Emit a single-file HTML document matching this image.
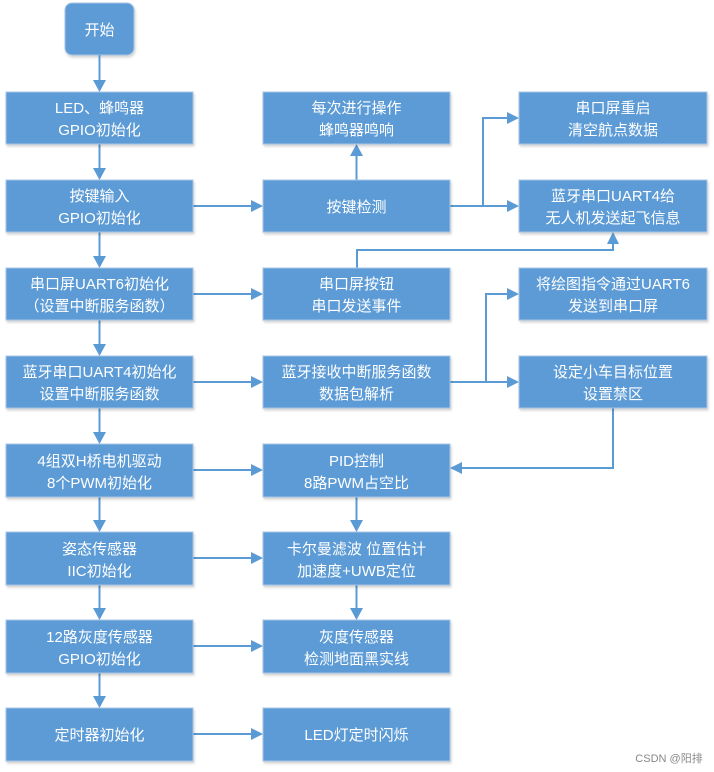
<!DOCTYPE html>
<html><head><meta charset="utf-8"><style>
html,body{margin:0;padding:0;background:#fff;}
svg{display:block;}
text{font-family:"Liberation Sans","Noto Sans CJK SC",sans-serif;font-size:15px;fill:#fff;text-anchor:middle;}
.b{fill:#5b9bd5;stroke:#a9c6e6;stroke-width:1;}
.l{stroke:#5b9bd5;stroke-width:2;fill:none;}
.a{fill:#5b9bd5;}
</style></head><body>
<svg width="714" height="772" viewBox="0 0 714 772">
<defs><filter id="s" x="-5%" y="-5%" width="115%" height="125%"><feDropShadow dx="1" dy="2" stdDeviation="1.2" flood-color="#000" flood-opacity="0.18"/></filter></defs>
<!-- start -->
<rect class="b" x="65" y="3" width="69" height="52" rx="7" filter="url(#s)"/>
<text x="99.5" y="35">开始</text>
<!-- col1 vertical lines -->
<line class="l" x1="99.5" y1="55" x2="99.5" y2="82"/><path class="a" d="M93,80 L106,80 L99.5,92 Z"/>
<g id="v">
<line class="l" x1="99.5" y1="144" x2="99.5" y2="170"/><path class="a" d="M93,168 L106,168 L99.5,180 Z"/>
</g>
<use href="#v" y="88"/><use href="#v" y="176"/><use href="#v" y="264"/><use href="#v" y="352"/><use href="#v" y="440"/><use href="#v" y="528"/>
<!-- col1->col2 -->
<g id="h"><line class="l" x1="193" y1="206" x2="253" y2="206"/><path class="a" d="M251,200 L263,206 L251,212 Z"/></g>
<use href="#h" y="88"/><use href="#h" y="176"/><use href="#h" y="264"/><use href="#h" y="352"/><use href="#h" y="440"/><use href="#h" y="528"/>
<!-- col2 verticals -->
<line class="l" x1="356.5" y1="180" x2="356.5" y2="154"/><path class="a" d="M350,156 L363,156 L356.5,144 Z"/>
<line class="l" x1="356.5" y1="497" x2="356.5" y2="522"/><path class="a" d="M350,520 L363,520 L356.5,532 Z"/>
<line class="l" x1="356.5" y1="585" x2="356.5" y2="610"/><path class="a" d="M350,608 L363,608 L356.5,620 Z"/>
<!-- key detect branches -->
<polyline class="l" points="450,206 509,206"/><path class="a" d="M507,200 L519,206 L507,212 Z"/>
<polyline class="l" points="483,206 483,118 509,118"/><path class="a" d="M507,112 L519,118 L507,124 Z"/>
<!-- serial button up to bluetooth -->
<polyline class="l" points="357,268 357,250 613,250 613,242"/><path class="a" d="M607,244 L619,244 L613,232 Z"/>
<!-- bluetooth rx branches -->
<polyline class="l" points="450,382 509,382"/><path class="a" d="M507,376 L519,382 L507,388 Z"/>
<polyline class="l" points="486,382 486,294 509,294"/><path class="a" d="M507,288 L519,294 L507,300 Z"/>
<!-- target pos -> PID -->
<polyline class="l" points="613,408 613,468 460,468"/><path class="a" d="M462,462 L450,468 L462,474 Z"/>
<!-- boxes -->
<g filter="url(#s)">
<rect class="b" x="6" y="92" width="187" height="52"/>
<rect class="b" x="6" y="180" width="187" height="52"/>
<rect class="b" x="6" y="268" width="187" height="52"/>
<rect class="b" x="6" y="356" width="187" height="52"/>
<rect class="b" x="6" y="444" width="187" height="53"/>
<rect class="b" x="6" y="532" width="187" height="53"/>
<rect class="b" x="6" y="620" width="187" height="53"/>
<rect class="b" x="6" y="708" width="187" height="53"/>
<rect class="b" x="263" y="92" width="187" height="52"/>
<rect class="b" x="263" y="180" width="187" height="52"/>
<rect class="b" x="263" y="268" width="187" height="52"/>
<rect class="b" x="263" y="356" width="187" height="52"/>
<rect class="b" x="263" y="444" width="187" height="53"/>
<rect class="b" x="263" y="532" width="187" height="53"/>
<rect class="b" x="263" y="620" width="187" height="53"/>
<rect class="b" x="263" y="708" width="187" height="53"/>
<rect class="b" x="519" y="92" width="188" height="52"/>
<rect class="b" x="519" y="180" width="188" height="52"/>
<rect class="b" x="519" y="268" width="188" height="52"/>
<rect class="b" x="519" y="356" width="188" height="52"/>
</g>
<!-- col1 text -->
<text x="99.5" y="113">LED、蜂鸣器</text><text x="99.5" y="135">GPIO初始化</text>
<text x="99.5" y="201">按键输入</text><text x="99.5" y="223">GPIO初始化</text>
<text x="99.5" y="289">串口屏UART6初始化</text><text x="99.5" y="311">（设置中断服务函数）</text>
<text x="99.5" y="377">蓝牙串口UART4初始化</text><text x="99.5" y="399">设置中断服务函数</text>
<text x="99.5" y="466">4组双H桥电机驱动</text><text x="99.5" y="488">8个PWM初始化</text>
<text x="99.5" y="554">姿态传感器</text><text x="99.5" y="576">IIC初始化</text>
<text x="99.5" y="642">12路灰度传感器</text><text x="99.5" y="664">GPIO初始化</text>
<text x="99.5" y="740">定时器初始化</text>
<!-- col2 text -->
<text x="356.5" y="113">每次进行操作</text><text x="356.5" y="135">蜂鸣器鸣响</text>
<text x="356.5" y="212">按键检测</text>
<text x="356.5" y="289">串口屏按钮</text><text x="356.5" y="311">串口发送事件</text>
<text x="356.5" y="377">蓝牙接收中断服务函数</text><text x="356.5" y="399">数据包解析</text>
<text x="356.5" y="466">PID控制</text><text x="356.5" y="488">8路PWM占空比</text>
<text x="356.5" y="554">卡尔曼滤波 位置估计</text><text x="356.5" y="576">加速度+UWB定位</text>
<text x="356.5" y="642">灰度传感器</text><text x="356.5" y="664">检测地面黑实线</text>
<text x="356.5" y="740">LED灯定时闪烁</text>
<!-- col3 text -->
<text x="613" y="113">串口屏重启</text><text x="613" y="135">清空航点数据</text>
<text x="613" y="201">蓝牙串口UART4给</text><text x="613" y="223">无人机发送起飞信息</text>
<text x="613" y="289">将绘图指令通过UART6</text><text x="613" y="311">发送到串口屏</text>
<text x="613" y="377">设定小车目标位置</text><text x="613" y="399">设置禁区</text>
<text x="669" y="762" style="fill:#888;font-size:11px;">CSDN @阳排</text>
</svg>
</body></html>
